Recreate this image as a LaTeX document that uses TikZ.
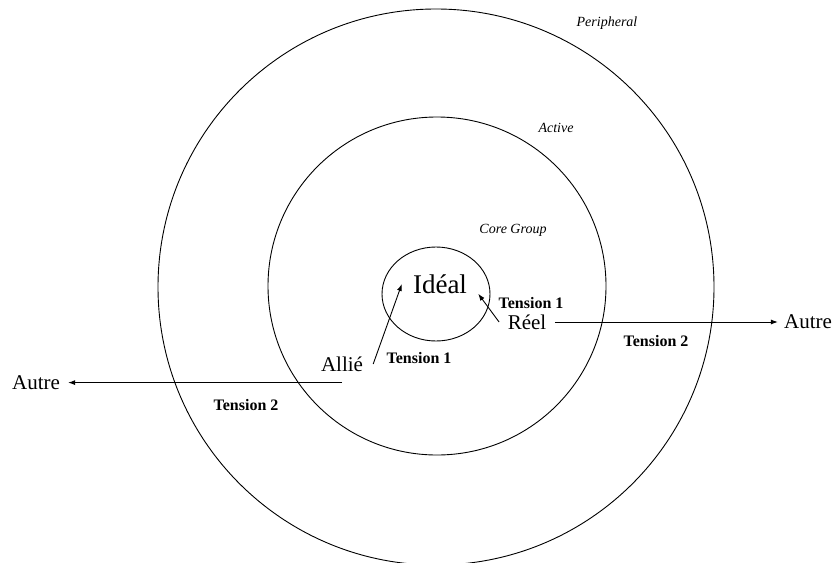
\documentclass[tikz,border=0pt]{standalone}
\usepackage{fontspec}
\setmainfont{Liberation Serif}
\usetikzlibrary{arrows.meta,shapes.geometric}

\tikzset{
  ring/.style={draw, line width=0.9pt, inner sep=0pt},
  zone/.style={font=\fontsize{14}{16}\selectfont\itshape, inner sep=0pt},
  role/.style={font=\fontsize{21}{24}\selectfont, inner ysep=0pt},
  tensionlabel/.style={font=\fontsize{16}{18}\selectfont\bfseries, inner sep=0pt},
  link/.style={line width=0.9pt, -{Latex[length=7pt,width=5pt]}}
}

\begin{document}
\begin{tikzpicture}[x=1pt,y=-1pt]
  \useasboundingbox (0,0) rectangle (832,562);

  % concentric zones
  \node[ring, circle, minimum size=556pt] (outer) at (436,287) {};
  \node[ring, circle, minimum size=338pt] (middle) at (437,286) {};
  \node[ring, ellipse, minimum width=108pt, minimum height=94pt] (inner) at (436,294) {};

  % zone names
  \node[zone] (peripheral) at (607,23) {Peripheral};
  \node[zone] (active) at (556,128) {Active};
  \node[zone] (core) at (513,230) {Core Group};

  % positions
  \node[font=\fontsize{27}{30}\selectfont, inner xsep=11pt, inner ysep=0pt] (ideal) at (440,284) {Idéal};
  \node[role, inner xsep=8.5pt] (reel) at (527,322) {Réel};
  \node[role, inner xsep=10pt] (allie) at (342,364) {Allié};
  \node[role, inner xsep=6pt] (autreR) at (808,322) {Autre};
  \node[role, inner xsep=8pt] (autreL) at (36,383) {Autre};

  % tensions
  \node[tensionlabel] (t1r) at (531,303) {Tension 1};
  \node[tensionlabel] (t1l) at (419,358) {Tension 1};
  \node[tensionlabel] (t2r) at (656,341) {Tension 2};
  \node[tensionlabel] (t2l) at (246,405) {Tension 2};

  % connectors
  \draw[link] (reel.west) -- (ideal.south east);
  \draw[link] (allie.east) -- (ideal.west);
  \draw[link] (reel.east) -- (autreR.west);
  \coordinate (allieFoot) at ([yshift=-11pt]allie.south);
  \draw[link] (allieFoot) -- (allieFoot -| autreL.east);
\end{tikzpicture}
\end{document}
